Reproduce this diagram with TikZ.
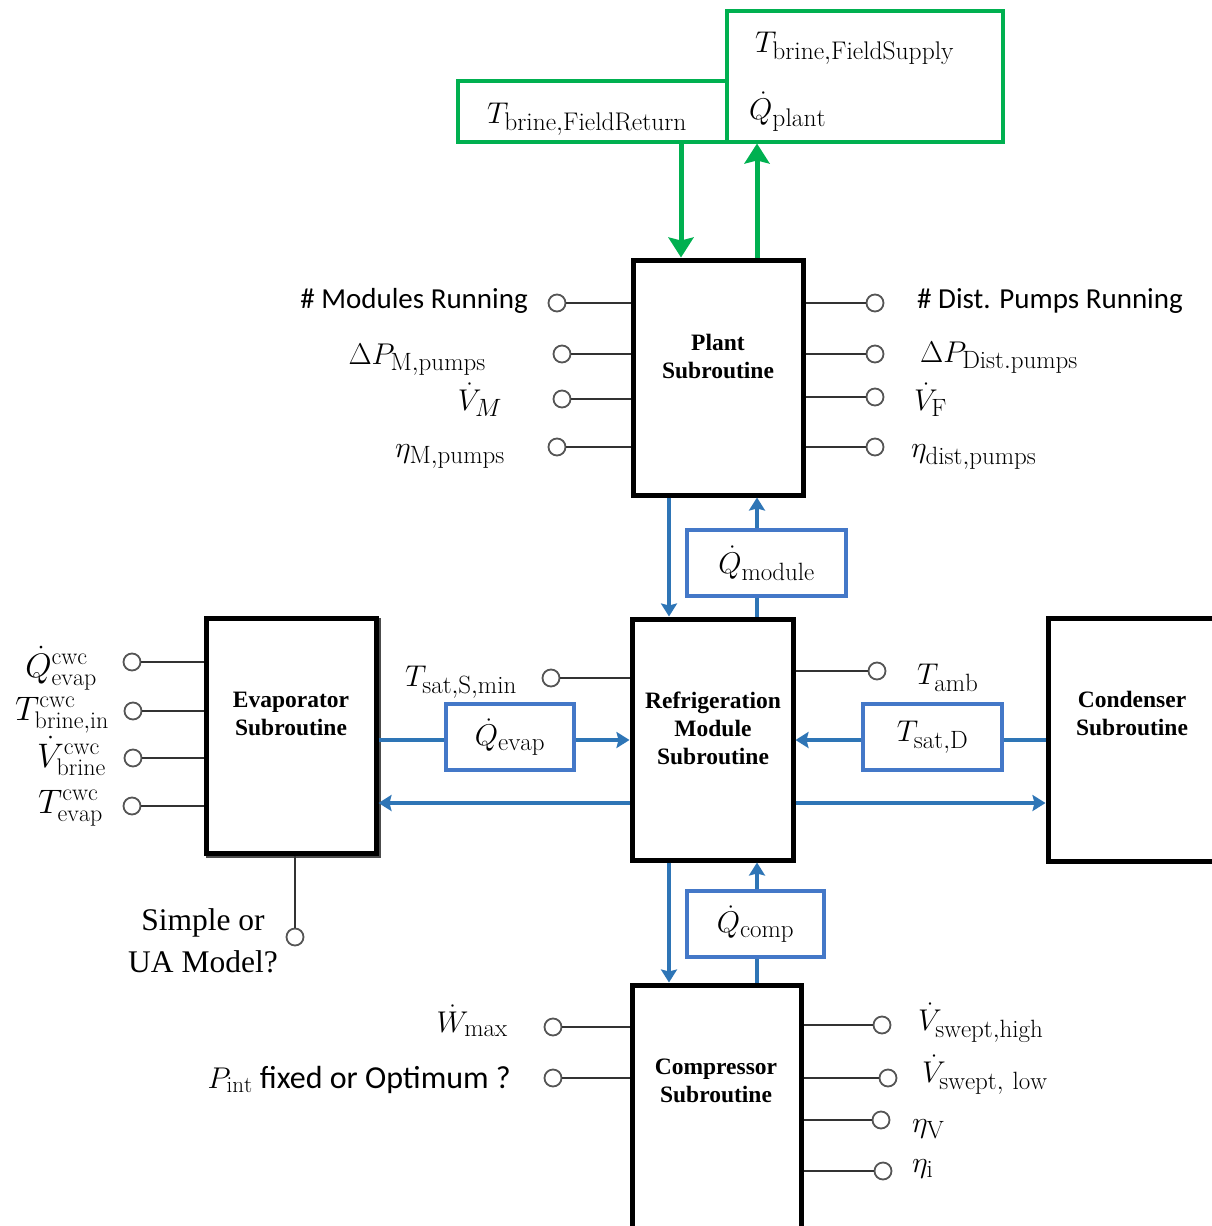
\RequirePackage{fix-cm}
\documentclass[tikz,border=0pt]{standalone}
\usepackage{fontspec}
\newfontfamily\calib{Carlito}
\newfontfamily\tnr{Liberation Serif}
\usetikzlibrary{arrows.meta}
% larger scripts for the variable labels
\DeclareMathSizes{30}{30}{25}{18}
\DeclareMathSizes{31}{30}{25.5}{18}
\DeclareMathSizes{34}{34}{24}{18}
\DeclareMathSizes{32}{30}{23}{17}
\definecolor{grn}{HTML}{00B050}
\definecolor{blu}{HTML}{2E75B6}
\definecolor{bbx}{HTML}{4478C8}
\definecolor{jackgray}{HTML}{555555}
\definecolor{wiregray}{HTML}{333333}
\begin{document}
\begin{tikzpicture}[x=1pt,y=-1pt,
  subbox/.style={draw=black,line width=5pt,fill=white,inner sep=0pt},
  shadowbox/.style={draw=black!70,line width=5pt,fill=black!70,inner sep=0pt},
  gbox/.style={draw=grn,line width=4pt,inner sep=0pt},
  bbox/.style={draw=bbx,line width=4pt,fill=white,inner sep=0pt,font=\fontsize{30}{32}\selectfont},
  jack/.style={circle,draw=jackgray,line width=1.8pt,fill=white,minimum size=17pt,inner sep=0pt},
  wire/.style={draw=wiregray,line width=1.8pt},
  bline/.style={draw=blu,line width=3.2pt},
  barrow/.style={bline,-{Stealth[length=13pt,width=16pt,inset=2pt]}},
  garrow/.style={draw=grn,line width=5pt,-{Stealth[length=20pt,width=25pt,inset=3pt]}},
  blocktitle/.style={font=\tnr\bfseries\fontsize{23.5}{28}\selectfont,align=center,inner sep=0pt},
  mlab/.style={font=\fontsize{30}{32}\selectfont,inner sep=0pt},
  glab/.style={font=\fontsize{31}{32}\selectfont,inner sep=0pt},
  biglab/.style={font=\fontsize{34}{36}\selectfont,inner sep=0pt},
  clab/.style={font=\calib\fontsize{29}{32}\selectfont,inner sep=0pt}]
\useasboundingbox (0,0) rectangle (1212,1226);

% ---- field side (green) ----
\node[gbox,minimum width=269pt,minimum height=61pt] (ret) at (592.5,111) {};
\node[gbox,minimum width=276pt,minimum height=131pt] (sup) at (865,76) {};
\node[glab,anchor=base west] (tfs) at (755,52) {$T_{\mathrm{brine,FieldSupply}}$};
\node[glab,anchor=base west] (qpl) at (749,119) {$\dot Q_{\mathrm{plant}}$};
\node[glab,anchor=base west] (tfr) at (487,123) {$T_{\mathrm{brine,FieldReturn}}$};

% ---- subroutine blocks ----
\node[subbox,minimum width=170pt,minimum height=235pt] (plant) at (718,377.5) {};
\node[subbox,minimum width=161pt,minimum height=241pt] (refrig) at (712.5,739.5) {};
\node[shadowbox,minimum width=170pt,minimum height=235pt] (evapsh) at (293,737.5) {};
\node[subbox,minimum width=170pt,minimum height=235pt] (evap) at (291,735.5) {};
\node[subbox,minimum width=170pt,minimum height=243pt] (cond) at (1133,739.5) {};
\node[subbox,minimum width=169pt,minimum height=255pt] (comp) at (716.5,1112.5) {};

\node[blocktitle] (plantt) at (718,356) {Plant\\Subroutine};
\node[blocktitle] (refrigt) at (713,728) {Refrigeration\\Module\\Subroutine};
\node[blocktitle] (evapt) at (291,713.5) {Evaporator\\Subroutine};
\node[blocktitle] (condt) at (1132,713.5) {Condenser\\Subroutine};
\node[blocktitle] (compt) at (716,1081) {Compressor\\Subroutine};

% ---- green field connections ----
\coordinate (gdn) at (681,0);
\coordinate (gup) at (757,0);
\draw[garrow] (gdn |- ret.south) -- (gdn |- plant.north);
\draw[garrow] (gup |- plant.north) -- (gup |- sup.south);

% ---- blue exchanged quantities ----
\coordinate (vdn) at (669,0);
\coordinate (vup) at (757,0);
\coordinate (rowa) at (0,740);
\coordinate (rowb) at (0,803);

\node[bbox,minimum width=159pt,minimum height=66pt] (module) at (766.5,563) {$\dot Q_{\mathrm{module}}$};
\node[bbox,minimum width=128pt,minimum height=66pt] (qevap) at (510,737) {$\dot Q_{\mathrm{evap}}$};
\node[bbox,minimum width=139pt,minimum height=66pt] (tsatd) at (932.5,737) {$T_{\mathrm{sat,D}}$};
\node[bbox,minimum width=137pt,minimum height=66pt] (qcomp) at (755.5,924) {$\dot Q_{\mathrm{comp}}$};

\draw[barrow] (vdn |- plant.south) -- (vdn |- refrig.north);
\draw[bline] (vup |- refrig.north) -- (vup |- module.south);
\draw[barrow] (vup |- module.north) -- (vup |- plant.south);

\draw[barrow] (vdn |- refrig.south) -- (vdn |- comp.north);
\draw[bline] (vup |- comp.north) -- (vup |- qcomp.south);
\draw[barrow] (vup |- qcomp.north) -- (vup |- refrig.south);

\draw[bline] (evap.east |- rowa) -- (qevap.west |- rowa);
\draw[barrow] (qevap.east |- rowa) -- (refrig.west |- rowa);
\draw[barrow] (refrig.west |- rowb) -- (evap.east |- rowb);

\draw[bline] (cond.west |- rowa) -- (tsatd.east |- rowa);
\draw[barrow] (tsatd.west |- rowa) -- (refrig.east |- rowa);
\draw[barrow] (refrig.east |- rowb) -- (cond.west |- rowb);

% ---- plant inputs ----
\node[jack] (pl1) at (557,303) {};
\node[jack] (pl2) at (562,354) {};
\node[jack] (pl3) at (562,399) {};
\node[jack] (pl4) at (557,447) {};
\foreach \j in {pl1,pl2,pl3,pl4} \draw[wire] (\j) -- (\j -| plant.west);
\node[clab,anchor=east] (lpl1) at (528,301) {\# Modules Running};
\node[mlab,anchor=base east] (lpl2) at (486,364) {$\Delta P_{\mathrm{M,pumps}}$};
\node[mlab,anchor=base east] (lpl3) at (502,410) {$\dot V_{M}$};
\node[mlab,anchor=base east] (lpl4) at (505,457) {$\eta_{\mathrm{M,pumps}}$};

\node[jack] (pr1) at (875,303) {};
\node[jack] (pr2) at (875,354) {};
\node[jack] (pr3) at (875,397) {};
\node[jack] (pr4) at (875,447) {};
\foreach \j in {pr1,pr2,pr3,pr4} \draw[wire] (plant.east |- \j) -- (\j);
\node[clab,anchor=west] (lpr1) at (917,301) {\# Dist. Pumps Running};
\node[mlab,anchor=base west] (lpr2) at (920,362) {$\Delta P_{\mathrm{Dist.pumps}}$};
\node[mlab,anchor=base west] (lpr3) at (914,410) {$\dot V_{\mathrm{F}}$};
\node[mlab,anchor=base west] (lpr4) at (911,457) {$\eta_{\mathrm{dist,pumps}}$};

% ---- refrigeration module inputs ----
\node[jack] (rm1) at (551,678) {};
\draw[wire] (rm1) -- (rm1 -| refrig.west);
\node[mlab,anchor=base east] (lrm1) at (517,686) {$T_{\mathrm{sat,S,min}}$};
\node[jack] (rm2) at (877,671) {};
\draw[wire] (refrig.east |- rm2) -- (rm2);
\node[mlab,anchor=base west] (lrm2) at (917,684) {$T_{\mathrm{amb}}$};

% ---- evaporator inputs ----
\node[jack] (ev1) at (132,662) {};
\node[jack] (ev2) at (133,711) {};
\node[jack] (ev3) at (133,758) {};
\node[jack] (ev4) at (132,806) {};
\foreach \j in {ev1,ev2,ev3,ev4} \draw[wire] (\j) -- (\j -| evap.west);
\node[biglab,anchor=base east] (lev1) at (97,677) {$\dot Q^{\mathrm{cwc}}_{\mathrm{evap}}$};
\node[biglab,anchor=base east] (lev2) at (109,720) {$T^{\mathrm{cwc}}_{\mathrm{brine,in}}$};
\node[biglab,anchor=base east] (lev3) at (106,767) {$\dot V^{\mathrm{cwc}}_{\mathrm{brine}}$};
\node[biglab,anchor=base east] (lev4) at (103,813) {$T^{\mathrm{cwc}}_{\mathrm{evap}}$};

\coordinate (evx) at (295,0);
\node[jack] (ev5) at (295,937) {};
\draw[wire] (evx |- evap.south) -- (ev5);
\node[font=\tnr\fontsize{31.5}{42}\selectfont,align=center,inner sep=0pt] (lev5) at (203,941) {Simple or\\UA Model?};

% ---- compressor inputs ----
\node[jack] (cl1) at (553,1027) {};
\node[jack] (cl2) at (553,1078) {};
\foreach \j in {cl1,cl2} \draw[wire] (\j) -- (\j -| comp.west);
\node[mlab,anchor=base east] (lcl1) at (508,1032) {$\dot W_{\mathrm{max}}$};
\node[clab,font=\calib\fontsize{32}{34}\selectfont,anchor=base east] (lcl2) at (511,1088) {$P_{\mathrm{int}}$ fixed or Optimum ?};

\node[jack] (cr1) at (882,1025) {};
\node[jack] (cr2) at (888,1078) {};
\node[jack] (cr3) at (881,1120) {};
\node[jack] (cr4) at (883,1171) {};
\foreach \j in {cr1,cr2,cr3,cr4} \draw[wire] (comp.east |- \j) -- (\j);
\node[mlab,anchor=base west] (lcr1) at (918,1030) {$\dot V_{\mathrm{swept,high}}$};
\node[mlab,anchor=base west] (lcr2) at (922,1082) {$\dot V_{\mathrm{swept,\ low}}$};
\node[mlab,anchor=base west] (lcr3) at (912,1132) {$\eta_{\mathrm{V}}$};
\node[mlab,anchor=base west] (lcr4) at (912,1172) {$\eta_{\mathrm{i}}$};
\end{tikzpicture}
\end{document}
